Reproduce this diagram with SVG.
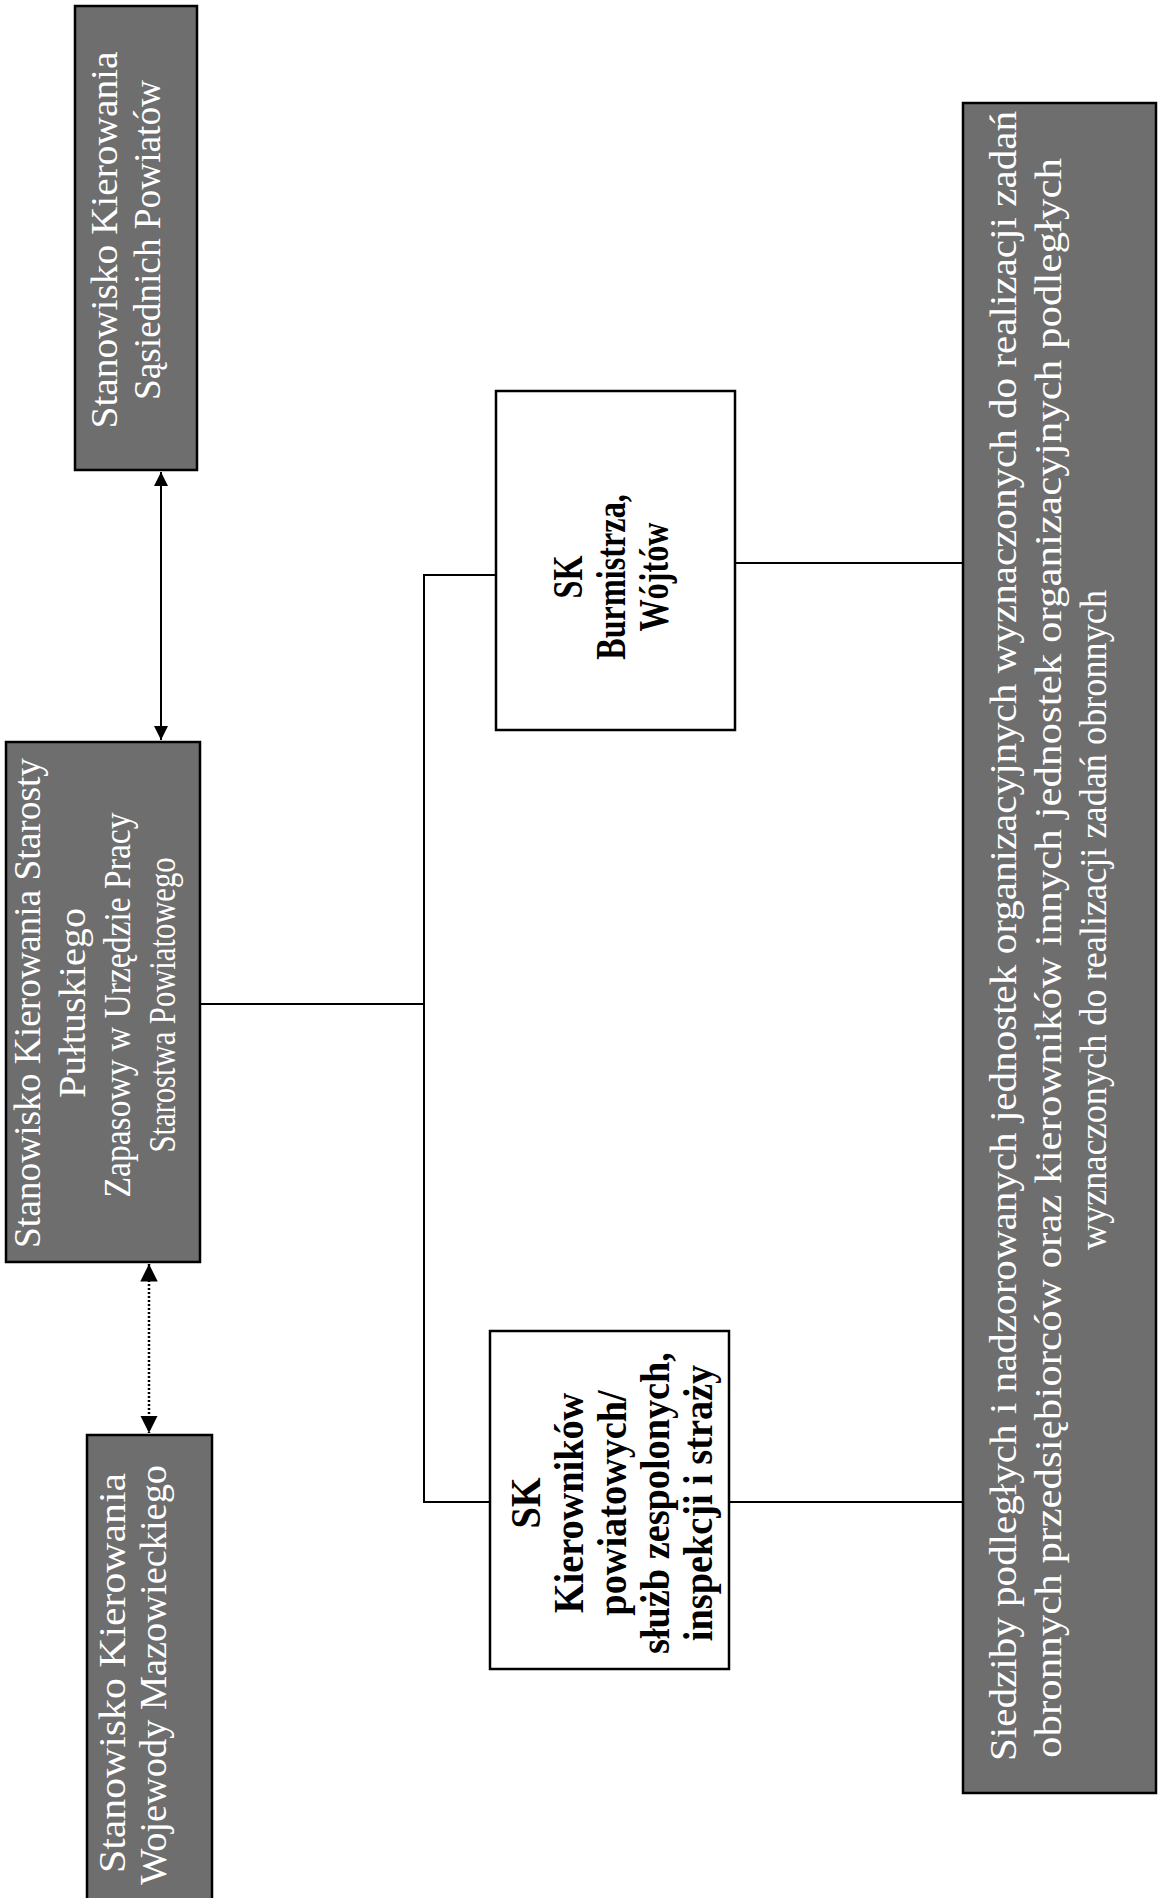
<svg xmlns="http://www.w3.org/2000/svg" width="1160" height="1898" viewBox="0 0 1160 1898">
<style>
.gray{fill:#6e6e6e;stroke:#000;stroke-width:2.5}
.white{fill:#fff;stroke:#000;stroke-width:2.5}
.gt{font-family:"Liberation Serif","Times New Roman",serif;font-size:38px;fill:#fff;text-anchor:middle}
.bt{font-family:"Liberation Serif","Times New Roman",serif;font-size:43px;font-weight:bold;fill:#000;text-anchor:middle}
.ln{stroke:#000;stroke-width:2;fill:none}
.dot{stroke:#000;stroke-width:2.5;fill:none;stroke-dasharray:2 2}
</style>
<defs>
<marker id="ar" viewBox="0 0 10 10" refX="10" refY="5" markerWidth="7" markerHeight="7" orient="auto-start-reverse" markerUnits="strokeWidth">
<path d="M0,0 L10,5 L0,10 z" fill="#000"/>
</marker>
</defs>
<rect width="1160" height="1898" fill="#fff"/>

<g id="connectors">
<line class="ln" x1="161" y1="472" x2="161" y2="740" marker-start="url(#ar)" marker-end="url(#ar)"/>
<line class="dot" x1="149" y1="1264" x2="149" y2="1433" marker-start="url(#ar)" marker-end="url(#ar)"/>
<polyline class="ln" points="200,1004 424,1004"/>
<polyline class="ln" points="496,575 424,575 424,1502 490,1502"/>
<line class="ln" x1="735" y1="563" x2="963" y2="563"/>
<line class="ln" x1="729" y1="1502" x2="963" y2="1502"/>
</g>

<g id="node-sasiednie">
<rect class="gray" x="75" y="6" width="122" height="464"/>
<text class="gt" transform="translate(117,240) rotate(-90)" textLength="377" lengthAdjust="spacingAndGlyphs">Stanowisko Kierowania</text>
<text class="gt" transform="translate(160,240) rotate(-90)" textLength="320" lengthAdjust="spacingAndGlyphs">Sąsiednich Powiatów</text>
</g>

<g id="node-starosta">
<rect class="gray" x="6" y="742" width="194" height="520"/>
<text class="gt" transform="translate(40,1003) rotate(-90)" textLength="490" lengthAdjust="spacingAndGlyphs">Stanowisko Kierowania Starosty</text>
<text class="gt" transform="translate(85,1003) rotate(-90)" textLength="190" lengthAdjust="spacingAndGlyphs">Pułtuskiego</text>
<text class="gt" transform="translate(130,1005) rotate(-90)" textLength="385" lengthAdjust="spacingAndGlyphs">Zapasowy w Urzędzie Pracy</text>
<text class="gt" transform="translate(175,1005) rotate(-90)" textLength="295" lengthAdjust="spacingAndGlyphs">Starostwa Powiatowego</text>
</g>

<g id="node-wojewoda">
<rect class="gray" x="87" y="1435" width="125" height="470"/>
<text class="gt" transform="translate(125,1673) rotate(-90)" textLength="400" lengthAdjust="spacingAndGlyphs">Stanowisko Kierowania</text>
<text class="gt" transform="translate(166,1675) rotate(-90)" textLength="420" lengthAdjust="spacingAndGlyphs">Wojewody Mazowieckiego</text>
</g>

<g id="node-burmistrz">
<rect class="white" x="496" y="391" width="239" height="339"/>
<text class="bt" transform="translate(582,577) rotate(-90) scale(0.75,1)">SK</text>
<text class="bt" transform="translate(625,577) rotate(-90) scale(0.75,1)">Burmistrza,</text>
<text class="bt" transform="translate(668,577) rotate(-90) scale(0.75,1)">Wójtów</text>
</g>

<g id="node-kierownicy">
<rect class="white" x="490" y="1331" width="239" height="338"/>
<text class="bt" transform="translate(540,1503) rotate(-90) scale(0.89,1)">SK</text>
<text class="bt" transform="translate(583,1503) rotate(-90) scale(0.89,1)">Kierowników</text>
<text class="bt" transform="translate(626,1503) rotate(-90) scale(0.89,1)">powiatowych/</text>
<text class="bt" transform="translate(669,1503) rotate(-90) scale(0.89,1)">służb zespolonych,</text>
<text class="bt" transform="translate(712,1503) rotate(-90) scale(0.89,1)">inspekcji i straży</text>
</g>

<g id="node-siedziby">
<rect class="gray" x="963" y="103" width="193" height="1690"/>
<text class="gt" transform="translate(1016,936) rotate(-90)" textLength="1650" lengthAdjust="spacingAndGlyphs">Siedziby podległych i nadzorowanych jednostek organizacyjnych wyznaczonych do realizacji zadań</text>
<text class="gt" transform="translate(1061,958) rotate(-90)" textLength="1600" lengthAdjust="spacingAndGlyphs">obronnych przedsiębiorców oraz kierowników innych jednostek organizacyjnych podległych</text>
<text class="gt" transform="translate(1106,920) rotate(-90)" textLength="660" lengthAdjust="spacingAndGlyphs">wyznaczonych do realizacji zadań obronnych</text>
</g>
</svg>
